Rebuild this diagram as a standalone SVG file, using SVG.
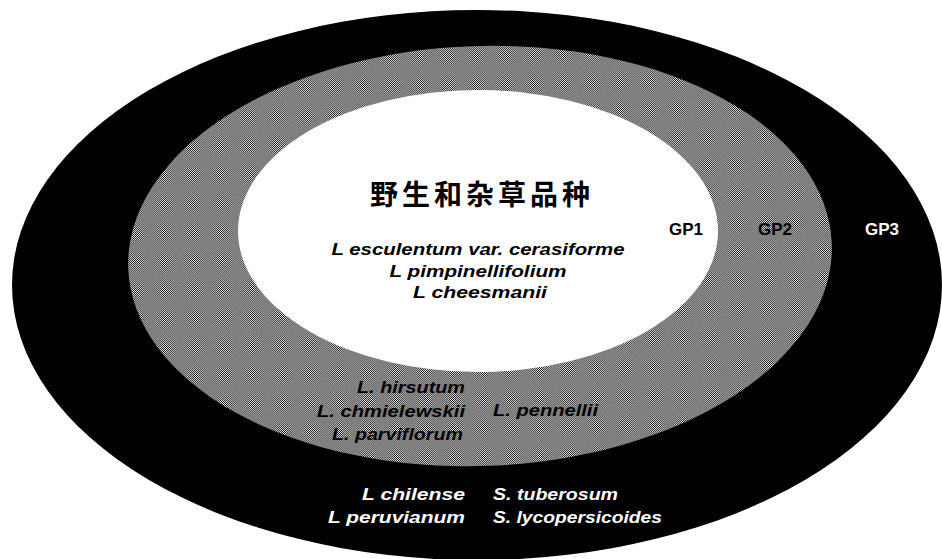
<svg xmlns="http://www.w3.org/2000/svg" width="942" height="559" viewBox="0 0 942 559">
  <defs>
    <pattern id="dither" x="0" y="0" width="2" height="2" patternUnits="userSpaceOnUse">
      <rect x="0" y="0" width="2" height="2" fill="#ffffff"/>
      <rect x="0" y="0" width="1" height="1" fill="#000000" shape-rendering="crispEdges"/>
      <rect x="1" y="1" width="1" height="1" fill="#000000" shape-rendering="crispEdges"/>
    </pattern>
  </defs>
  <style>
    .sp { font-family: "Liberation Sans", Arial, sans-serif; font-weight: bold; font-style: italic; font-size: 17px; }
    .gp { font-family: "Liberation Sans", Arial, sans-serif; font-weight: bold; font-size: 17px; text-anchor: middle; }
    .blk { fill: #000000; }
    .wht { fill: #ffffff; }
    .title { font-family: "Noto Sans CJK SC", "Noto Sans CJK JP", sans-serif; font-size: 28px; font-weight: bold; letter-spacing: 4px; text-anchor: middle; fill: #000000; }
  </style>
  <rect x="0" y="0" width="942" height="559" fill="#ffffff"/>

  <g id="gp3">
    <ellipse cx="477" cy="285" rx="465" ry="275" fill="#000000"/>
    <text class="gp wht" x="882" y="235">GP3</text>
    <text class="sp wht" x="465" y="500" text-anchor="end" textLength="103" lengthAdjust="spacingAndGlyphs">L chilense</text>
    <text class="sp wht" x="465" y="523" text-anchor="end" textLength="137" lengthAdjust="spacingAndGlyphs">L peruvianum</text>
    <text class="sp wht" x="493" y="500" textLength="125" lengthAdjust="spacingAndGlyphs">S. tuberosum</text>
    <text class="sp wht" x="493" y="523" textLength="169" lengthAdjust="spacingAndGlyphs">S. lycopersicoides</text>
  </g>

  <g id="gp2">
    <ellipse cx="480" cy="256" rx="352" ry="210" transform="rotate(-2 480 256)" fill="url(#dither)"/>
    <text class="gp blk" x="775" y="235">GP2</text>
    <text class="sp blk" x="465" y="393" text-anchor="end" textLength="108" lengthAdjust="spacingAndGlyphs">L. hirsutum</text>
    <text class="sp blk" x="465" y="417" text-anchor="end" textLength="148" lengthAdjust="spacingAndGlyphs">L. chmielewskii</text>
    <text class="sp blk" x="463" y="440" text-anchor="end" textLength="131" lengthAdjust="spacingAndGlyphs">L. parviflorum</text>
    <text class="sp blk" x="493" y="416" textLength="105" lengthAdjust="spacingAndGlyphs">L. pennellii</text>
  </g>

  <g id="gp1">
    <ellipse cx="478" cy="231" rx="240" ry="141" fill="#ffffff"/>
    <text class="gp blk" x="686" y="235">GP1</text>
    <text class="title" x="482" y="205">野生和杂草品种</text>
    <text class="sp blk" x="478" y="255" text-anchor="middle" textLength="293" lengthAdjust="spacingAndGlyphs">L esculentum var. cerasiforme</text>
    <text class="sp blk" x="478" y="277" text-anchor="middle" textLength="177" lengthAdjust="spacingAndGlyphs">L pimpinellifolium</text>
    <text class="sp blk" x="480" y="298" text-anchor="middle" textLength="134" lengthAdjust="spacingAndGlyphs">L cheesmanii</text>
  </g>

  <g id="connectors"></g>
</svg>
